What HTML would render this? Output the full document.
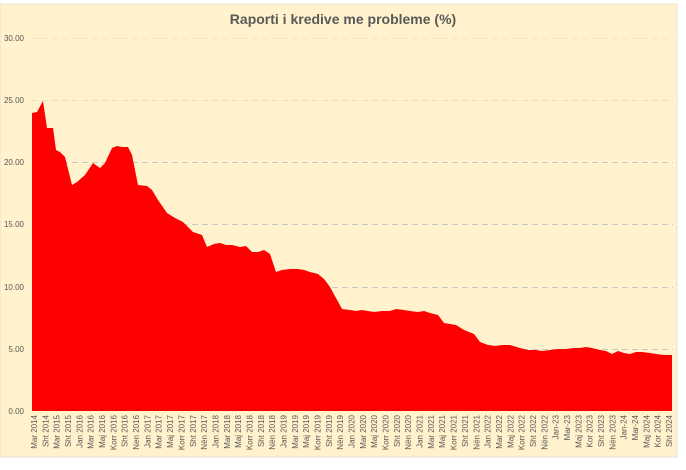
<!DOCTYPE html>
<html><head><meta charset="utf-8"><style>
html,body{margin:0;padding:0;background:#fff;}
svg{display:block;font-family:"Liberation Sans",sans-serif;}
</style></head><body>
<svg width="686" height="470" viewBox="0 0 686 470" xmlns="http://www.w3.org/2000/svg">
<rect x="0" y="4" width="677" height="453" fill="#FFF2CC" stroke="#e6e0d0" stroke-width="1"/>
<text x="343" y="24" text-anchor="middle" font-size="14" font-weight="bold" fill="#595959">Raporti i kredive me probleme (%)</text>
<g stroke="#c8c8c8" stroke-width="1" stroke-dasharray="6,4">
<line x1="32" x2="673" y1="38.5" y2="38.5" stroke="#f0e6c8"/>
<line x1="32" x2="673" y1="100.5" y2="100.5" stroke="#ece0c0"/>
<line x1="32" x2="673" y1="162.5" y2="162.5"/>
<line x1="32" x2="673" y1="224.5" y2="224.5"/>
<line x1="32" x2="673" y1="287.5" y2="287.5"/>
<line x1="32" x2="673" y1="349.5" y2="349.5"/>
</g>
<g font-size="8" fill="#595959" text-anchor="end">
<text x="24" y="41">30.00</text>
<text x="24" y="103">25.00</text>
<text x="24" y="165">20.00</text>
<text x="24" y="227">15.00</text>
<text x="24" y="290">10.00</text>
<text x="24" y="352">5.00</text>
<text x="24" y="414">0.00</text>
</g>
<polygon fill="#FF0000" points="32,411 32,113 37,112 43,101 47,128 53,128 56,150 60,152 65,157 72,185 77,182 85,175 93,163 100,168 105,163 112,148 117,146 122,147 128,147 132,155 138,185 147,186 152,190 158,200 167,213 175,218 183,222 188,227 193,232 202,235 207,247 214,244 220,243 226,245 232,245 240,247 246,246 252,252 258,252 264,250 270,254 276,272 282,270 290,269 298,269 304,270 310,272 318,274 324,279 330,287 336,298 342,309 350,310 356,311 362,310 368,311 374,312 382,311 390,311 396,309 404,310 410,311 418,312 424,311 430,313 438,315 444,323 450,324 456,325 464,330 474,334 480,342 488,345 496,346 502,345 510,345 520,348 528,350 536,350 542,351 550,350 558,349 566,349 574,348 580,348 586,347 592,348 600,350 606,351 612,354 618,351 624,353 630,354 636,352 642,352 650,353 656,354 664,355 672,355 672,411"/>
<g font-size="8" fill="#595959" text-anchor="end">
<text transform="translate(37.0,415) rotate(-90)">Mar 2014</text>
<text transform="translate(48.3,415) rotate(-90)">Sht 2014</text>
<text transform="translate(59.7,415) rotate(-90)">Mar 2015</text>
<text transform="translate(71.0,415) rotate(-90)">Sht 2015</text>
<text transform="translate(82.4,415) rotate(-90)">Jan 2016</text>
<text transform="translate(93.7,415) rotate(-90)">Mar 2016</text>
<text transform="translate(105.0,415) rotate(-90)">Maj 2016</text>
<text transform="translate(116.4,415) rotate(-90)">Korr 2016</text>
<text transform="translate(127.7,415) rotate(-90)">Sht 2016</text>
<text transform="translate(139.1,415) rotate(-90)">Nen 2016</text>
<text transform="translate(150.4,415) rotate(-90)">Jan 2017</text>
<text transform="translate(161.7,415) rotate(-90)">Mar 2017</text>
<text transform="translate(173.1,415) rotate(-90)">Maj 2017</text>
<text transform="translate(184.4,415) rotate(-90)">Korr 2017</text>
<text transform="translate(195.8,415) rotate(-90)">Sht 2017</text>
<text transform="translate(207.1,415) rotate(-90)">Nën 2017</text>
<text transform="translate(218.4,415) rotate(-90)">Jan 2018</text>
<text transform="translate(229.8,415) rotate(-90)">Mar 2018</text>
<text transform="translate(241.1,415) rotate(-90)">Maj 2018</text>
<text transform="translate(252.5,415) rotate(-90)">Korr 2018</text>
<text transform="translate(263.8,415) rotate(-90)">Sht 2018</text>
<text transform="translate(275.1,415) rotate(-90)">Nën 2018</text>
<text transform="translate(286.5,415) rotate(-90)">Jan 2019</text>
<text transform="translate(297.8,415) rotate(-90)">Mar 2019</text>
<text transform="translate(309.2,415) rotate(-90)">Maj 2019</text>
<text transform="translate(320.5,415) rotate(-90)">Korr 2019</text>
<text transform="translate(331.8,415) rotate(-90)">Sht 2019</text>
<text transform="translate(343.2,415) rotate(-90)">Nën 2019</text>
<text transform="translate(354.5,415) rotate(-90)">Jan 2020</text>
<text transform="translate(365.9,415) rotate(-90)">Mar 2020</text>
<text transform="translate(377.2,415) rotate(-90)">Maj 2020</text>
<text transform="translate(388.5,415) rotate(-90)">Korr 2020</text>
<text transform="translate(399.9,415) rotate(-90)">Sht 2020</text>
<text transform="translate(411.2,415) rotate(-90)">Nën 2020</text>
<text transform="translate(422.6,415) rotate(-90)">Jan 2021</text>
<text transform="translate(433.9,415) rotate(-90)">Mar 2021</text>
<text transform="translate(445.2,415) rotate(-90)">Maj 2021</text>
<text transform="translate(456.6,415) rotate(-90)">Korr 2021</text>
<text transform="translate(467.9,415) rotate(-90)">Sht 2021</text>
<text transform="translate(479.3,415) rotate(-90)">Nën 2021</text>
<text transform="translate(490.6,415) rotate(-90)">Jan 2022</text>
<text transform="translate(501.9,415) rotate(-90)">Mar 2022</text>
<text transform="translate(513.3,415) rotate(-90)">Maj 2022</text>
<text transform="translate(524.6,415) rotate(-90)">Korr 2022</text>
<text transform="translate(536.0,415) rotate(-90)">Sht 2022</text>
<text transform="translate(547.3,415) rotate(-90)">Nën 2022</text>
<text transform="translate(558.6,415) rotate(-90)">Jan-23</text>
<text transform="translate(570.0,415) rotate(-90)">Mar-23</text>
<text transform="translate(581.3,415) rotate(-90)">Maj 2023</text>
<text transform="translate(592.7,415) rotate(-90)">Kor 2023</text>
<text transform="translate(604.0,415) rotate(-90)">Sht 2023</text>
<text transform="translate(615.3,415) rotate(-90)">Nën 2023</text>
<text transform="translate(626.7,415) rotate(-90)">Jan-24</text>
<text transform="translate(638.0,415) rotate(-90)">Mar-24</text>
<text transform="translate(649.4,415) rotate(-90)">Maj 2024</text>
<text transform="translate(660.7,415) rotate(-90)">Kor 2024</text>
<text transform="translate(672.0,415) rotate(-90)">Sht 2024</text>
</g>
</svg>
</body></html>
